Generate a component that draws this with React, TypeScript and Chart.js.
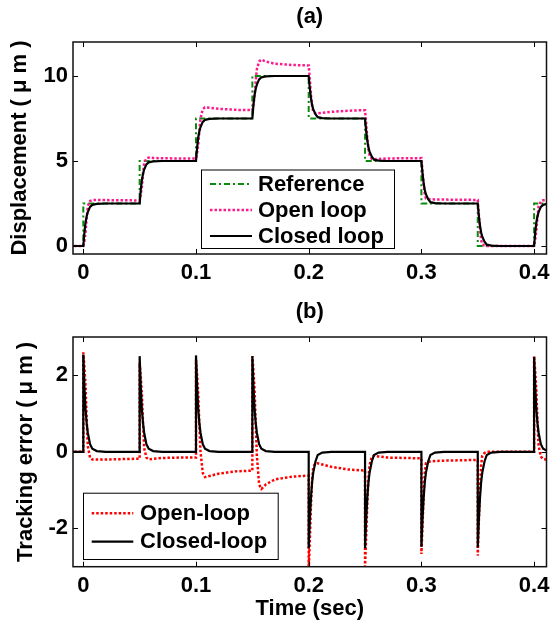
import React, { useEffect, useRef } from 'react';
import { Chart, registerables } from 'chart.js';

Chart.register(...registerables);

// ---------- data ----------
const stepTimes = [0, 0.05, 0.1, 0.15, 0.2, 0.25, 0.3, 0.35, 0.4];
const refLevels = [2.5, 5, 7.5, 10, 7.5, 5, 2.5, 0, 2.5];
// sample times inside each step segment (seconds after the step)
const sampleOffsets = [0, 0, 0.001, 0.002, 0.003, 0.004, 0.006, 0.008, 0.012, 0.02, 0.035];

const openLoopDisp = [
  [0, 0, 0.3, 0.8, 1.65, 2.35, 2.65, 2.7, 2.7, 2.7, 2.69],
  [2.68, 2.68, 3.05, 3.5, 4.25, 4.9, 5.15, 5.2, 5.18, 5.16, 5.15],
  [5.15, 5.15, 5.5, 6.0, 6.8, 7.5, 8.05, 8.16, 8.13, 8.07, 8.01],
  [7.99, 7.99, 8.35, 8.85, 9.7, 10.4, 10.85, 10.97, 10.85, 10.72, 10.65],
  [10.62, 10.62, 9.8, 8.9, 8.25, 7.9, 7.8, 7.8, 7.83, 7.89, 7.96],
  [7.99, 7.99, 7.2, 6.35, 5.7, 5.35, 5.12, 5.1, 5.12, 5.15, 5.16],
  [5.17, 5.17, 4.4, 3.6, 3.05, 2.8, 2.77, 2.75, 2.74, 2.73, 2.72],
  [2.71, 2.71, 1.8, 0.95, 0.35, 0.1, 0.03, 0, 0, 0, 0],
  [0, 0, 0.4, 0.9, 1.7, 2.35, 2.62, 2.69, 2.7, 2.7, 2.7],
];

const closedLoopDisp = [
  [0, 0, 0.8, 1.4, 1.75, 2.0, 2.3, 2.42, 2.48, 2.5, 2.5],
  [2.5, 2.5, 3.3, 3.9, 4.25, 4.5, 4.8, 4.92, 4.98, 5, 5],
  [5, 5, 5.8, 6.4, 6.75, 7.0, 7.3, 7.42, 7.48, 7.5, 7.5],
  [7.5, 7.5, 8.3, 8.9, 9.25, 9.5, 9.8, 9.92, 9.98, 10, 10],
  [10, 10, 9.25, 8.7, 8.3, 8.05, 7.75, 7.58, 7.52, 7.5, 7.5],
  [7.5, 7.5, 6.75, 6.2, 5.8, 5.55, 5.25, 5.08, 5.02, 5, 5],
  [5, 5, 4.25, 3.7, 3.3, 3.05, 2.75, 2.58, 2.52, 2.5, 2.5],
  [2.5, 2.5, 1.75, 1.2, 0.8, 0.55, 0.25, 0.08, 0.02, 0, 0],
  [0, 0, 0.8, 1.4, 1.75, 2.0, 2.3, 2.42, 2.48, 2.5, 2.5],
];

const openLoopErr = [
  [0, 2.6, 2.2, 1.7, 0.85, 0.15, -0.15, -0.2, -0.2, -0.2, -0.19],
  [-0.18, 2.32, 1.95, 1.5, 0.75, 0.1, -0.15, -0.2, -0.18, -0.16, -0.15],
  [-0.15, 2.4, 2.0, 1.5, 0.7, 0.0, -0.55, -0.66, -0.63, -0.57, -0.51],
  [-0.49, 2.5, 2.1, 1.6, 0.75, -0.1, -0.85, -0.97, -0.85, -0.72, -0.65],
  [-0.62, -3.12, -2.3, -1.4, -0.75, -0.4, -0.3, -0.3, -0.33, -0.39, -0.46],
  [-0.49, -3.0, -2.2, -1.35, -0.7, -0.35, -0.12, -0.1, -0.12, -0.15, -0.16],
  [-0.17, -2.67, -1.9, -1.1, -0.55, -0.3, -0.27, -0.25, -0.24, -0.23, -0.22],
  [-0.21, -2.71, -1.8, -0.95, -0.35, -0.1, -0.03, 0, 0, 0, 0],
  [0, 2.5, 2.1, 1.6, 0.8, 0.15, -0.12, -0.19, -0.2, -0.2, -0.2],
];

const closedLoopErr = [
  [0, 2.54, 1.7, 1.1, 0.75, 0.5, 0.2, 0.08, 0.02, 0, 0],
  [0, 2.5, 1.7, 1.1, 0.75, 0.5, 0.2, 0.08, 0.02, 0, 0],
  [0, 2.52, 1.7, 1.1, 0.75, 0.5, 0.2, 0.08, 0.02, 0, 0],
  [0, 2.5, 1.7, 1.1, 0.75, 0.5, 0.2, 0.08, 0.02, 0, 0],
  [0, -2.52, -1.75, -1.2, -0.8, -0.55, -0.25, -0.08, -0.02, 0, 0],
  [0, -2.52, -1.75, -1.2, -0.8, -0.55, -0.25, -0.08, -0.02, 0, 0],
  [0, -2.48, -1.75, -1.2, -0.8, -0.55, -0.25, -0.08, -0.02, 0, 0],
  [0, -2.5, -1.75, -1.2, -0.8, -0.55, -0.25, -0.08, -0.02, 0, 0],
  [0, 2.48, 1.7, 1.1, 0.75, 0.5, 0.2, 0.08, 0.02, 0, 0],
];

const xTicks = [0, 0.1, 0.2, 0.3, 0.4];
const xTickLabels = ['0', '0.1', '0.2', '0.3', '0.4'];
const dispTicks = [0, 5, 10];
const dispTickLabels = ['0', '5', '10'];
const errTicks = [-2, 0, 2];
const errTickLabels = ['-2', '0', '2'];

// ---------- helpers ----------
const FONT_FAMILY = "'Liberation Sans', Arial, Helvetica, sans-serif";
const font = { family: FONT_FAMILY, size: 22, weight: 'bold' as const };

type Pt = { x: number; y: number };

const toPoints = (rows: number[][]): Pt[] => {
  const pts: Pt[] = [{ x: -0.02, y: rows[0][0] }];
  rows.forEach((row, i) =>
    row.forEach((v, j) => pts.push({ x: stepTimes[i] + sampleOffsets[j], y: v }))
  );
  return pts;
};

const refPoints = (): Pt[] => {
  const pts: Pt[] = [{ x: -0.02, y: 0 }];
  stepTimes.forEach((t, i) => pts.push({ x: t, y: refLevels[i] }));
  pts.push({ x: 0.45, y: refLevels[refLevels.length - 1] });
  return pts;
};

const framePlugin = {
  id: 'frameTicks',
  afterDraw(chart: any) {
    const { ctx, chartArea: a, scales } = chart;
    const tl = 5;
    ctx.save();
    ctx.strokeStyle = '#000';
    ctx.lineWidth = 1;
    ctx.beginPath();
    scales.x.ticks.forEach((t: any) => {
      const px = Math.round(scales.x.getPixelForValue(t.value)) + 0.5;
      ctx.moveTo(px, a.bottom);
      ctx.lineTo(px, a.bottom - tl);
      ctx.moveTo(px, a.top);
      ctx.lineTo(px, a.top + tl);
    });
    scales.y.ticks.forEach((t: any) => {
      const py = Math.round(scales.y.getPixelForValue(t.value)) + 0.5;
      ctx.moveTo(a.left, py);
      ctx.lineTo(a.left + tl, py);
      ctx.moveTo(a.right, py);
      ctx.lineTo(a.right - tl, py);
    });
    ctx.stroke();
    ctx.lineWidth = 1.5;
    ctx.strokeStyle = '#111';
    ctx.strokeRect(a.left, a.top, a.right - a.left, a.bottom - a.top);
    ctx.restore();
  },
};

type LegendCfg = {
  box: { l: number; t: number; r: number; b: number };
  rows: { dataset: number; y: number }[];
  lineX0: number;
  lineX1: number;
  textX: number;
};

const makeLegendPlugin = (cfg: LegendCfg) => ({
  id: 'boxLegend',
  afterDraw(chart: any) {
    const { ctx } = chart;
    const { box } = cfg;
    ctx.save();
    ctx.fillStyle = '#fff';
    ctx.fillRect(box.l, box.t, box.r - box.l, box.b - box.t);
    ctx.strokeStyle = '#000';
    ctx.lineWidth = 1;
    ctx.strokeRect(box.l + 0.5, box.t + 0.5, box.r - box.l, box.b - box.t);
    cfg.rows.forEach((row) => {
      const ds = chart.data.datasets[row.dataset];
      ctx.beginPath();
      ctx.setLineDash(ds.borderDash || []);
      ctx.strokeStyle = ds.borderColor;
      ctx.lineWidth = ds.borderWidth;
      ctx.moveTo(cfg.lineX0, row.y);
      ctx.lineTo(cfg.lineX1, row.y);
      ctx.stroke();
      ctx.setLineDash([]);
      ctx.fillStyle = '#000';
      ctx.font = `bold 22px ${FONT_FAMILY}`;
      ctx.textBaseline = 'middle';
      ctx.textAlign = 'left';
      ctx.fillText(ds.label, cfg.textX, row.y + 0.5);
    });
    ctx.restore();
  },
});

const xScale = (height: number, withTitle: boolean) => ({
  type: 'linear' as const,
  min: -0.00914,
  max: 0.411,
  grid: { display: false, drawTicks: false },
  border: { display: false },
  ticks: {
    font,
    color: '#000',
    padding: 6,
    maxRotation: 0,
    autoSkip: false,
    callback: (_v: any, i: number) => xTickLabels[i],
  },
  afterBuildTicks: (s: any) => {
    s.ticks = xTicks.map((v) => ({ value: v }));
  },
  afterFit: (s: any) => {
    s.height = height;
    s.paddingLeft = 0;
    s.paddingRight = 0;
  },
  title: {
    display: withTitle,
    text: 'Time (sec)',
    font,
    color: '#000',
    padding: { top: 0, bottom: 2 },
  },
});

const yScale = (
  min: number,
  max: number,
  ticks: number[],
  labels: string[],
  title: string,
  titlePad: number
) => ({
  type: 'linear' as const,
  min,
  max,
  grid: { display: false, drawTicks: false },
  border: { display: false },
  ticks: {
    font,
    color: '#000',
    padding: 5,
    callback: (_v: any, i: number) => labels[i],
  },
  afterBuildTicks: (s: any) => {
    s.ticks = ticks.map((v) => ({ value: v }));
  },
  afterFit: (s: any) => {
    s.width = 73;
    s.paddingTop = 0;
    s.paddingBottom = 0;
  },
  title: {
    display: true,
    text: title,
    font,
    color: '#000',
    padding: { top: titlePad, bottom: 0 },
  },
});

const titleOpts = (text: string) => ({
  display: true,
  text,
  font,
  color: '#000',
  fullSize: false,
  padding: { top: 3.5, bottom: 12.1 },
});

export default function App() {
  const topRef = useRef<HTMLCanvasElement | null>(null);
  const botRef = useRef<HTMLCanvasElement | null>(null);

  useEffect(() => {
    if (!topRef.current || !botRef.current) return;

    const top = new Chart(topRef.current, {
      type: 'line',
      data: {
        datasets: [
          {
            label: 'Reference',
            data: refPoints(),
            borderColor: '#0a8a0a',
            borderWidth: 2,
            borderDash: [6, 3, 2, 3],
            stepped: true,
            pointRadius: 0,
            order: 2,
            clip: 0,
          },
          {
            label: 'Open loop',
            data: toPoints(openLoopDisp),
            borderColor: '#ff1a8c',
            borderWidth: 2.5,
            borderDash: [2.5, 2],
            pointRadius: 0,
            tension: 0,
            order: 1,
            clip: 0,
          },
          {
            label: 'Closed loop',
            data: toPoints(closedLoopDisp),
            borderColor: '#000',
            borderWidth: 2.2,
            pointRadius: 0,
            tension: 0,
            order: 0,
            clip: 0,
          },
        ],
      } as any,
      options: {
        animation: false,
        responsive: false,
        devicePixelRatio: 1,
        parsing: false as any,
        events: [],
        layout: { padding: { left: 0, right: 3.5, top: 0, bottom: 0 } },
        plugins: {
          legend: { display: false },
          tooltip: { enabled: false },
          title: titleOpts('(a)'),
        },
        scales: {
          x: xScale(41, false),
          y: yScale(-0.47, 12, dispTicks, dispTickLabels, 'Displacement ( μ m )', 7),
        },
      } as any,
      plugins: [
        framePlugin,
        makeLegendPlugin({
          box: { l: 201, t: 169.5, r: 394, b: 248 },
          rows: [
            { dataset: 0, y: 184 },
            { dataset: 1, y: 210 },
            { dataset: 2, y: 236 },
          ],
          lineX0: 210,
          lineX1: 252,
          textX: 258,
        }),
      ],
    });

    const bot = new Chart(botRef.current, {
      type: 'line',
      data: {
        datasets: [
          {
            label: 'Open-loop',
            data: toPoints(openLoopErr),
            borderColor: '#ff0000',
            borderWidth: 2.5,
            borderDash: [2.5, 2],
            pointRadius: 0,
            tension: 0,
            order: 1,
            clip: 0,
          },
          {
            label: 'Closed-loop',
            data: toPoints(closedLoopErr),
            borderColor: '#000',
            borderWidth: 2.2,
            pointRadius: 0,
            tension: 0,
            order: 0,
            clip: 0,
          },
        ],
      } as any,
      options: {
        animation: false,
        responsive: false,
        devicePixelRatio: 1,
        parsing: false as any,
        events: [],
        layout: { padding: { left: 0, right: 3.5, top: 0, bottom: 0 } },
        plugins: {
          legend: { display: false },
          tooltip: { enabled: false },
          title: titleOpts('(b)'),
        },
        scales: {
          x: xScale(57.3, true),
          y: yScale(-3, 3, errTicks, errTickLabels, 'Tracking error ( μ m )', 13),
        },
      } as any,
      plugins: [
        framePlugin,
        makeLegendPlugin({
          box: { l: 83, t: 197.7, r: 277.7, b: 264 },
          rows: [
            { dataset: 0, y: 218.3 },
            { dataset: 1, y: 246.7 },
          ],
          lineX0: 91.7,
          lineX1: 133.3,
          textX: 140,
        }),
      ],
    });

    return () => {
      top.destroy();
      bot.destroy();
    };
  }, []);

  return (
    <div
      style={{
        position: 'fixed',
        left: 0,
        top: 0,
        width: 550,
        height: 624,
        background: '#fff',
      }}
    >
      <canvas
        ref={topRef}
        width={550}
        height={295}
        style={{ position: 'absolute', left: 0, top: 0, width: 550, height: 295, display: 'block' }}
      />
      <canvas
        ref={botRef}
        width={550}
        height={329}
        style={{ position: 'absolute', left: 0, top: 295, width: 550, height: 329, display: 'block' }}
      />
    </div>
  );
}
